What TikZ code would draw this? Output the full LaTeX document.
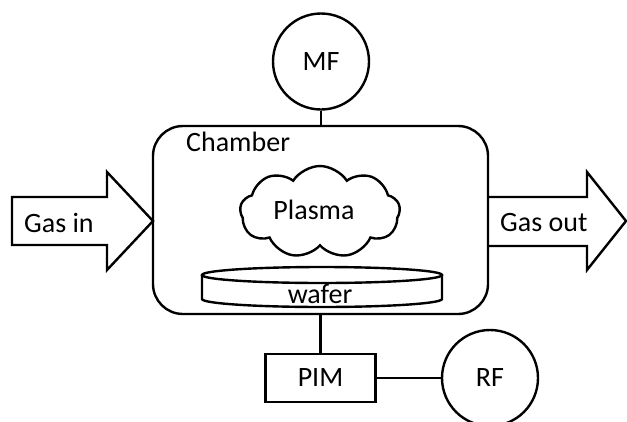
\documentclass[tikz,border=0pt]{standalone}
\usepackage{fontspec}
\setmainfont{Carlito}
\usetikzlibrary{shapes.symbols,shapes.geometric}
\begin{document}
\begin{tikzpicture}[x=1pt,y=-1pt,line width=2.4pt,
  lbl/.style={font=\fontsize{28}{32}\selectfont, inner sep=0pt},
  circ/.style={draw, circle, minimum size=96pt, inner sep=0pt, font=\fontsize{28}{32}\selectfont},
  box/.style={draw, rectangle, minimum width=110pt, minimum height=48pt, inner sep=0pt, font=\fontsize{28}{32}\selectfont},
  conn/.style={draw, line width=2.4pt}]
\useasboundingbox (0,0) rectangle (627,421);
% chamber
\node[draw, rounded corners=30pt, minimum width=335pt, minimum height=188pt, inner sep=0pt] (chamber) at (320.5,220) {};
\node[lbl, anchor=west] (chlabel) at (185,142) {Chamber};
% MF
\node[circ] (mf) at (321,61.5) {MF};
\draw[conn] (mf.south) -- (mf.south |- chamber.north);
% gas in arrow
\draw[line join=miter] (12,197) -- (107,197) -- (107,172) -- (153,221) -- (107,270) -- (107,245) -- (12,245) -- cycle;
\node[lbl, anchor=west] (gasin) at (23,223) {Gas in};
% gas out arrow
\draw[line join=miter] (487.5,197) -- (587,197) -- (587,172) -- (626,221) -- (587,270) -- (587,246) -- (487.5,246);
\node[lbl, anchor=west] (gasout) at (499,223) {Gas out};
% plasma cloud
\node[draw, cloud, cloud puffs=9, cloud puff arc=115, aspect=1.7, minimum width=160pt, minimum height=92pt, inner sep=0pt] (cloud) at (320,212) {};
\node[lbl] (plasma) at (314,210) {Plasma};
% wafer
\draw (202,275) -- (202,299) arc[start angle=180, end angle=360, x radius=120pt, y radius=8pt] -- (442,275);
\draw (322,275) ellipse [x radius=120pt, y radius=8pt];
\node[lbl, anchor=base] (wafer) at (320,303) {wafer};
% PIM
\node[box] (pim) at (320.5,378) {PIM};
\draw[conn] (pim.north) -- (pim.north |- chamber.south);
% RF
\node[circ] (rf) at (490,378) {RF};
\draw[conn] (pim.east) -- (rf.west);
\end{tikzpicture}
\end{document}
